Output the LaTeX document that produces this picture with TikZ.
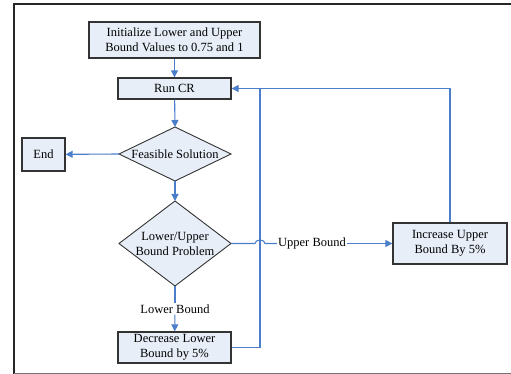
\documentclass[tikz,border=0pt]{standalone}
\usepackage{fontspec}
\setmainfont{Liberation Serif}
\usetikzlibrary{arrows.meta}
\definecolor{boxfill}{HTML}{E7EEF8}
\definecolor{boxline}{HTML}{333333}
\definecolor{arrowblue}{HTML}{4A7EC8}
\tikzset{
  procbox/.style={draw=boxline, line width=1.3pt, fill=boxfill, inner sep=0pt, align=center, font=\fontsize{12.5}{15}\selectfont},
  diashape/.style={draw=boxline, line width=0.9pt, fill=boxfill, line join=miter},
  lbl/.style={inner sep=1pt, align=center, font=\fontsize{12.5}{15}\selectfont},
  conn/.style={draw=arrowblue, line width=1.1pt},
  arr/.style={conn, -{Triangle[length=7pt,width=7pt]}},
}
\begin{document}
\begin{tikzpicture}[x=1pt,y=-1pt]
\useasboundingbox (0,0) rectangle (511,374);
% frame
\draw[line width=2.2pt, draw=black!85] (511,4) -- (14,4) -- (14,374);
\draw[line width=1pt, draw=black!55] (14,373) -- (511,373);
% diamond corners
\coordinate (feasN) at (175,127);
\coordinate (feasS) at (175,181);
\coordinate (feasW) at (119,154);
\coordinate (feasE) at (231,154);
\coordinate (lubN) at (175,201);
\coordinate (lubS) at (175,286);
\coordinate (lubW) at (119,243.5);
\coordinate (lubE) at (231,243.5);
\draw[diashape] (feasN) -- (feasE) -- (feasS) -- (feasW) -- cycle;
\draw[diashape] (lubN) -- (lubE) -- (lubS) -- (lubW) -- cycle;
% nodes
\node[procbox, minimum width=171pt, minimum height=36pt] (init) at (174.5,40) {Initialize Lower and Upper\\Bound Values to 0.75 and 1};
\node[procbox, minimum width=113pt, minimum height=21pt] (run) at (174.5,88.5) {Run CR};
\node[lbl] (feas) at (175,154) {Feasible Solution};
\node[procbox, minimum width=43pt, minimum height=33pt] (end) at (43.5,154.5) {End};
\node[lbl] (lub) at (175,243.5) {Lower/Upper\\Bound Problem};
\node[lbl] (lbl1) at (175,309) {Lower Bound};
\node[procbox, minimum width=113pt, minimum height=31pt] (dec) at (174.5,347.5) {Decrease Lower\\Bound by 5\%};
\node[lbl] (lbl2) at (312,243.5) {Upper Bound};
\node[procbox, minimum width=114pt, minimum height=41pt] (inc) at (450,243.5) {Increase Upper\\Bound By 5\%};
\coordinate (c1) at (260,347.5);
\coordinate (c2) at (260,88.5);
\coordinate (c3) at (450,88.5);
% connectors
\draw[arr] (init) -- (run);
\draw[arr] (run) -- (feasN);
\draw[arr] (feasW) -- (end);
\draw[arr] (feasS) -- (lubN);
\draw[conn] (lubS) -- (lbl1);
\draw[arr] (lbl1) -- (dec);
\draw[conn] (lubE) -- (255,243.5) arc[start angle=180, end angle=0, x radius=5pt, y radius=3.5pt] -- (lbl2.west);
\draw[arr] (lbl2.east) -- (inc.west);
\draw[arr] (dec.east) -- (c1) -- (c2) -- (run.east);
\draw[conn] (inc.north) -- (c3) -- (c2);
\end{tikzpicture}
\end{document}
